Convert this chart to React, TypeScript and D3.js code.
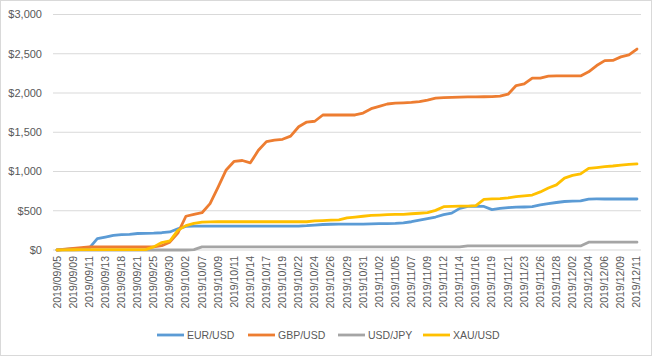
import React from "react";
import * as d3 from "d3";

const dates: string[] = [
  "2019/09/05","2019/09/06","2019/09/09","2019/09/10","2019/09/11","2019/09/12","2019/09/13","2019/09/17",
  "2019/09/18","2019/09/20","2019/09/21","2019/09/24","2019/09/25","2019/09/27","2019/09/30","2019/10/01",
  "2019/10/02","2019/10/04","2019/10/07","2019/10/08","2019/10/09","2019/10/10","2019/10/11","2019/10/12",
  "2019/10/14","2019/10/16","2019/10/17","2019/10/18","2019/10/19","2019/10/21","2019/10/22","2019/10/23",
  "2019/10/24","2019/10/25","2019/10/26","2019/10/28","2019/10/29","2019/10/30","2019/10/31","2019/11/01",
  "2019/11/02","2019/11/04","2019/11/05","2019/11/06","2019/11/07","2019/11/08","2019/11/09","2019/11/11",
  "2019/11/12","2019/11/13","2019/11/14","2019/11/15","2019/11/16","2019/11/18","2019/11/19","2019/11/20",
  "2019/11/21","2019/11/22","2019/11/23","2019/11/25","2019/11/26","2019/11/27","2019/11/28","2019/11/30",
  "2019/12/02","2019/12/03","2019/12/04","2019/12/05","2019/12/06","2019/12/07","2019/12/09","2019/12/10",
  "2019/12/11",
];

const eurUsd: number[] = [
  0, 8, 15, 20, 25, 145, 165, 185, 195, 200,
  210, 213, 215, 220, 230, 270, 300, 305, 305, 305,
  305, 305, 305, 305, 305, 305, 305, 305, 305, 305,
  305, 310, 318, 325, 328, 330, 330, 330, 330, 332,
  335, 335, 338, 345, 360, 380, 400, 420, 450, 470,
  530, 555, 560, 555, 515, 530, 540, 545, 548, 552,
  575, 590, 605, 618, 622, 625, 648, 650, 650, 650,
  650, 650, 650,
];

const gbpUsd: number[] = [
  0, 10, 20, 30, 40, 40, 40, 40, 40, 40,
  40, 40, 40, 55, 100, 215, 430, 455, 475, 590,
  800, 1020, 1130, 1140, 1110, 1270, 1380, 1400, 1410, 1450,
  1570, 1630, 1640, 1720, 1720, 1720, 1720, 1720, 1745, 1800,
  1830, 1860, 1870, 1875, 1880, 1890, 1910, 1935, 1940, 1945,
  1948, 1950, 1950, 1952, 1953, 1960, 1985, 2095, 2115, 2190,
  2190, 2215, 2218, 2218, 2218, 2218, 2270, 2350, 2412, 2415,
  2460, 2485, 2560,
];

const usdJpy: number[] = [
  0, 0, 0, 0, 0, 0, 0, 0, 0, 0,
  0, 0, 0, 0, 0, 0, 0, 5, 40, 40,
  40, 40, 40, 40, 40, 40, 40, 40, 40, 40,
  40, 40, 40, 40, 40, 40, 40, 40, 40, 40,
  40, 40, 40, 40, 40, 40, 40, 40, 40, 40,
  40, 52, 52, 52, 52, 52, 52, 52, 52, 52,
  52, 52, 52, 52, 52, 52, 100, 100, 100, 100,
  100, 100, 100,
];

const xauUsd: number[] = [
  0, 2, 3, 4, 5, 5, 5, 5, 5, 5,
  5, 5, 40, 95, 115, 250, 310, 340, 355, 358,
  360, 360, 360, 360, 360, 360, 360, 360, 360, 360,
  360, 360, 372, 375, 380, 385, 410, 420, 430, 440,
  445, 450, 453, 455, 462, 468, 475, 505, 552, 555,
  558, 560, 565, 645, 650, 655, 665, 680, 690, 700,
  740, 790, 830, 915, 950, 970, 1040, 1050, 1062, 1070,
  1082, 1090, 1098,
];

const seriesNames: string[] = ["EUR/USD", "GBP/USD", "USD/JPY", "XAU/USD"];
const seriesColors: string[] = ["#5B9BD5", "#ED7D31", "#A5A5A5", "#FFC000"];
const yTicks: number[] = [0, 500, 1000, 1500, 2000, 2500, 3000];

const W = 652;
const H = 356;
const FONT = "'Liberation Sans', Arial, sans-serif";

export default function App() {
  const allSeries = [eurUsd, gbpUsd, usdJpy, xauUsd];
  const x = d3.scaleBand<string>().domain(dates).range([53, 641]).padding(0);
  const y = d3.scaleLinear().domain([0, 3000]).range([250, 14.5]);
  const cx = (d: string) => (x(d) as number) + x.bandwidth() / 2;
  const line = d3
    .line<number>()
    .x((_, i) => cx(dates[i]))
    .y((v) => y(v));
  const fmt = (v: number) => "$" + d3.format(",")(v);
  const legendX = [157, 248, 338, 423];

  return (
    <svg
      width={W}
      height={H}
      style={{ position: "absolute", left: 0, top: 0, background: "#fff" }}
      fontFamily={FONT}
    >
      <rect x={0.5} y={0.5} width={W - 1} height={H - 1} fill="#fff" stroke="#d9d9d9" />
      {yTicks.map((t) => (
        <g key={t}>
          <line x1={53} x2={641} y1={y(t)} y2={y(t)} stroke="#d9d9d9" strokeWidth={1} />
          <text x={42} y={y(t)} dy="0.35em" textAnchor="end" fontSize={11} fill="#595959">
            {fmt(t)}
          </text>
        </g>
      ))}
      {dates.map((d, i) =>
        i % 2 === 0 ? (
          <text
            key={d}
            transform={`translate(${cx(d) + 3.5},${256}) rotate(-90)`}
            textAnchor="end"
            fontSize={10.5}
            fill="#595959"
          >
            {d}
          </text>
        ) : null
      )}
      {allSeries.map((s, k) => (
        <path
          key={seriesNames[k]}
          d={line(s) || ""}
          fill="none"
          stroke={seriesColors[k]}
          strokeWidth={2.8}
          strokeLinejoin="round"
          strokeLinecap="round"
        />
      ))}
      {seriesNames.map((n, k) => (
        <g key={n} transform={`translate(${legendX[k]},335)`}>
          <line x1={0} x2={27} y1={0} y2={0} stroke={seriesColors[k]} strokeWidth={2.8} />
          <text x={30} y={0} dy="0.35em" fontSize={10.5} fill="#595959">
            {n}
          </text>
        </g>
      ))}
    </svg>
  );
}
